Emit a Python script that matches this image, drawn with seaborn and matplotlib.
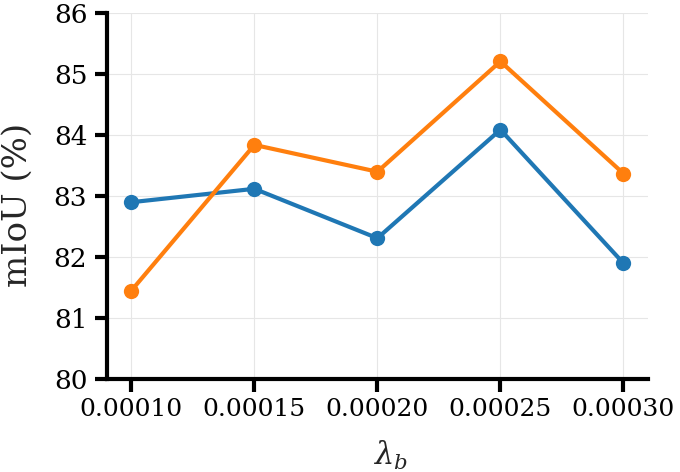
import numpy as np
import pandas as pd
import seaborn as sns
import matplotlib.pyplot as plt

# lambda_b values on the x axis
lambda_b = [0.00010, 0.00015, 0.00020, 0.00025, 0.00030]
# mIoU (%) for each run
miou_blue = [82.9, 83.12, 82.31, 84.09, 81.9]
miou_orange = [81.45, 83.84, 83.4, 85.21, 83.37]
y_ticks = [80, 81, 82, 83, 84, 85, 86]


def main():
    sns.set_style("ticks")
    plt.rcParams["font.family"] = ["DejaVu Serif"]
    plt.rcParams["mathtext.fontset"] = "dejavuserif"

    df = pd.DataFrame(
        {
            "lambda_b": lambda_b * 2,
            "miou": miou_blue + miou_orange,
            "run": ["a"] * len(lambda_b) + ["b"] * len(lambda_b),
        }
    )

    fig = plt.figure(figsize=(6.8, 4.72), dpi=100)
    ax = fig.add_axes([0.157, 0.197, 0.796, 0.775])

    sns.lineplot(
        data=df,
        x="lambda_b",
        y="miou",
        hue="run",
        palette=["#1f77b4", "#ff7f0e"],
        marker="o",
        markersize=11,
        markeredgewidth=0,
        linewidth=3,
        legend=False,
        ax=ax,
    )

    ax.set_xlim(0.00009, 0.00031)
    ax.set_ylim(80, 86)
    ax.set_xticks(lambda_b)
    ax.set_xticklabels([f"{v:.5f}" for v in lambda_b])
    ax.set_yticks(y_ticks)
    ax.grid(True, color="#e6e6e6", linewidth=0.8)
    ax.set_axisbelow(True)

    sns.despine(ax=ax)
    for side in ["left", "bottom"]:
        ax.spines[side].set_linewidth(3)
        ax.spines[side].set_color("black")
    ax.tick_params(axis="both", width=3, length=9, pad=5, colors="black")
    ax.tick_params(axis="x", labelsize=18)
    ax.tick_params(axis="y", labelsize=19)

    ax.set_xlabel(r"$\lambda_b$", fontsize=22)
    ax.set_ylabel("mIoU (%)", fontsize=24.5)
    ax.xaxis.set_label_coords(0.523, -0.165)
    ax.yaxis.set_label_coords(-0.135, 0.475)

    fig.savefig("out.png", dpi=100)


if __name__ == "__main__":
    main()
